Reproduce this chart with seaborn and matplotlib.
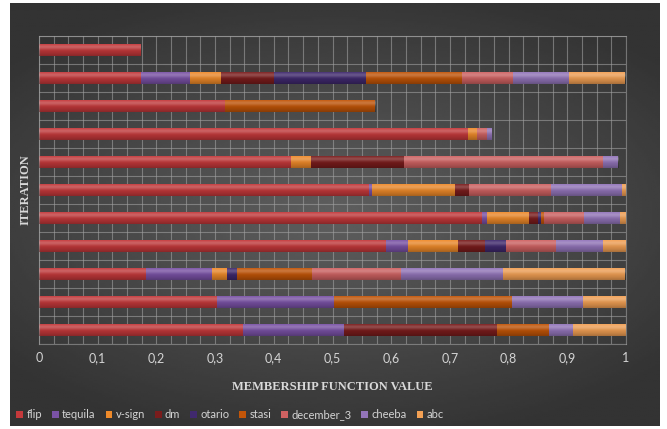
import numpy as np
import pandas as pd
import matplotlib
matplotlib.use("Agg")
import matplotlib.pyplot as plt
import seaborn as sns
from matplotlib.patches import Patch
from matplotlib.ticker import MultipleLocator, FuncFormatter

# =========================
# Data (rows listed top to bottom)
# =========================

iterations = ["it1", "it2", "it3", "it4", "it5", "it6",
              "it7", "it8", "it9", "it10", "it11"]

flip = [0.173, 0.173, 0.317, 0.730, 0.430, 0.563, 0.755, 0.591, 0.183, 0.303, 0.348]
tequila = [0, 0.085, 0, 0, 0, 0.005, 0.009, 0.038, 0.112, 0.200, 0.172]
v_sign = [0, 0.052, 0, 0.016, 0.033, 0.141, 0.070, 0.085, 0.026, 0, 0]
dm = [0, 0.090, 0, 0, 0.158, 0.023, 0.016, 0.046, 0, 0, 0.261]
otario = [0, 0.157, 0, 0, 0, 0, 0.005, 0.036, 0.017, 0, 0]
stasi = [0, 0.163, 0.256, 0, 0, 0, 0.005, 0, 0.127, 0.302, 0.087]
december_3 = [0, 0.088, 0, 0.017, 0.339, 0.141, 0.069, 0.084, 0.151, 0, 0]
cheeba = [0, 0.095, 0, 0.008, 0.027, 0.120, 0.060, 0.080, 0.175, 0.122, 0.041]
abc = [0, 0.096, 0, 0, 0, 0.007, 0.011, 0.040, 0.208, 0.073, 0.091]

series_names = ["flip", "tequila", "v-sign", "dm", "otario",
                "stasi", "december_3", "cheeba", "abc"]
series_values = [flip, tequila, v_sign, dm, otario,
                 stasi, december_3, cheeba, abc]
colors = ["#C4393B", "#7A52A6", "#EE8A2A", "#7A1C1C", "#40296E",
          "#C25508", "#CF6262", "#9375BA", "#F2A054"]

df = pd.DataFrame(dict(zip(series_names, series_values)), index=iterations)
cum = df.cumsum(axis=1)

# =========================
# Figure
# =========================

sns.set_theme(style="dark")
plt.rcParams["font.family"] = ["Lato", "DejaVu Sans"]

fig = plt.figure(figsize=(6.67, 4.29), dpi=100)
fig.patch.set_facecolor("white")

# dark radial background panel
bg = fig.add_axes([10 / 667, 3 / 429, 650 / 667, 423 / 429], zorder=0)
yy, xx = np.mgrid[-1:1:200j, -1:1:300j]
r = np.sqrt((xx * 0.9) ** 2 + (yy * 1.1) ** 2)
shade = np.clip(0.37 - 0.14 * r, 0.2, 0.37)
bg.imshow(shade, cmap="gray", vmin=0, vmax=1, aspect="auto",
          interpolation="bilinear")
bg.set_axis_off()

ax = fig.add_axes([39 / 667, 1 - 344 / 429, 587 / 667, 308 / 429], zorder=1)
ax.set_facecolor("none")

# stacked bars: draw cumulative totals from last series to first
for name, col in reversed(list(zip(series_names, colors))):
    sns.barplot(
        x=cum[name].values,
        y=iterations,
        order=iterations,
        orient="h",
        color=col,
        width=0.45,
        linewidth=0,
        saturation=1,
        ax=ax
    )

# cylinder-like shading, once per row (on the full-length bars drawn first)
t = np.linspace(0, 1, 40)
hi = np.zeros((40, 1, 4))
hi[..., :3] = 1
hi[:, 0, 3] = 0.22 * np.exp(-((t - 0.3) / 0.18) ** 2)
lo = np.zeros((40, 1, 4))
lo[:, 0, 3] = 0.30 * t ** 2
for p in list(ax.patches)[:len(iterations)]:
    if p.get_width() <= 0:
        continue
    x0, y0 = p.get_x(), p.get_y()
    x1, y1 = x0 + p.get_width(), y0 + p.get_height()
    for img in (hi, lo):
        im = ax.imshow(img, extent=(x0, x1, y1, y0), aspect="auto",
                       origin="upper", interpolation="bilinear", zorder=3)
        im.set_clip_path(p)

ax.set_xlim(0, 1)
ax.set_ylim(len(iterations) - 0.5, -0.5)

# grid
grid_col = "#a0a0a0"
ax.xaxis.set_major_locator(MultipleLocator(0.1))
ax.xaxis.set_minor_locator(MultipleLocator(0.025))
ax.set_yticks(np.arange(len(iterations)))
ax.set_yticks(np.arange(-0.5, len(iterations), 1), minor=True)
ax.grid(which="both", axis="x", color=grid_col, lw=0.8, alpha=0.6)
ax.grid(which="minor", axis="y", color=grid_col, lw=0.8, alpha=0.6)
ax.grid(which="major", axis="y", visible=False)
ax.set_axisbelow(True)
for s in ax.spines.values():
    s.set_color(grid_col)
    s.set_alpha(0.6)
    s.set_linewidth(0.8)

ax.set_yticklabels([])
ax.tick_params(which="both", length=0)
ax.tick_params(axis="x", colors="#d4d4d4", labelsize=9, pad=6)
ax.xaxis.set_major_formatter(
    FuncFormatter(lambda v, pos: f"{v:.1f}".rstrip("0").rstrip(".").replace(".", ","))
)

label_font = dict(family="Liberation Serif", weight="bold", size=9, color="#d9d9d9")
ax.set_xlabel("MEMBERSHIP FUNCTION VALUE", labelpad=12, **label_font)
ax.set_ylabel("ITERATION", labelpad=2, **label_font)

# legend
handles = [Patch(facecolor=c, edgecolor="none") for c in colors]
leg = fig.legend(
    handles, series_names,
    loc="center left",
    bbox_to_anchor=(12 / 667, 1 - 415 / 429),
    ncol=9,
    frameon=False,
    fontsize=8,
    handlelength=0.6,
    handleheight=0.6,
    handletextpad=0.3,
    columnspacing=0.9,
    borderaxespad=0
)
for txt in leg.get_texts():
    txt.set_color("#d4d4d4")

fig.savefig("out.png", dpi=100)
